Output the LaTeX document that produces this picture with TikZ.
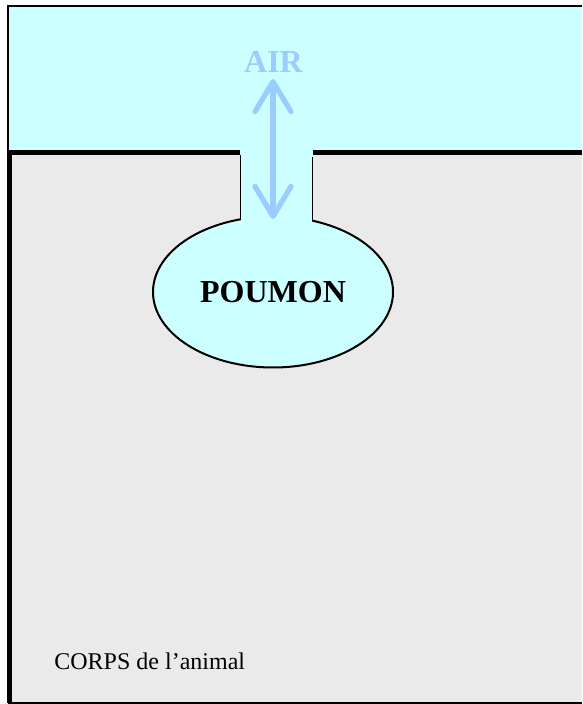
\documentclass[tikz,border=0pt]{standalone}
\usepackage{fontspec}
\setmainfont{Liberation Serif}
\usetikzlibrary{arrows.meta,shapes.geometric}
\definecolor{ciel}{HTML}{CCFFFF}
\definecolor{chair}{HTML}{EAEAEA}
\definecolor{souffle}{HTML}{99CCFF}
\tikzset{
	bord/.style={draw=black,line width=0.8pt},
	paroi/.style={draw=black,line width=2.6pt},
	gros/.style={font=\bfseries\fontsize{16}{19}\selectfont}
}
\begin{document}
\begin{tikzpicture}[x=0.5pt,y=-0.5pt]
	\useasboundingbox (0,0) rectangle (582,704);
	% milieu exterieur
	\fill[ciel] (8,6) rectangle (582,152);
	\draw[bord] (582,6) -- (8,6) -- (8,152);
	
	% corps
	\fill[chair] (8,152) rectangle (582,704);
	\draw[bord] (8,703) -- (582,703);
	\draw[paroi] (9.5,151) -- (9.5,703);
	\draw[paroi] (7,152.5) -- (240,152.5);
	\draw[paroi] (313,152.5) -- (582,152.5);
	\node[anchor=base west,inner sep=0pt,font=\fontsize{12}{14}\selectfont] (corps) at (54,669) {CORPS de l'animal};
	
	% poumon
	\fill[ciel] (240,150) rectangle (313,240);
	\node[ellipse,bord,line width=1pt,fill=ciel,minimum width=120pt,minimum height=75.5pt,inner sep=0pt,gros] (poumon) at (273,292) {POUMON};
	\fill[ciel] (241,150) rectangle (312,235);
	\draw[bord] (240.5,155) -- (240.5,220);
	\draw[bord] (312.5,157) -- (312.5,221);
	
	% air
	\node[gros,text=souffle,anchor=base] (air) at (273.5,72.5) {AIR};
	\coordinate (haut) at (273,79);
	\coordinate (bas) at (273,219);
	\draw[souffle,line width=2.6pt,line cap=round,
		{Straight Barb[round,length=15pt,width=18pt]}-{Straight Barb[round,length=15pt,width=18pt]}] (haut) -- (bas);
\end{tikzpicture}
\end{document}
